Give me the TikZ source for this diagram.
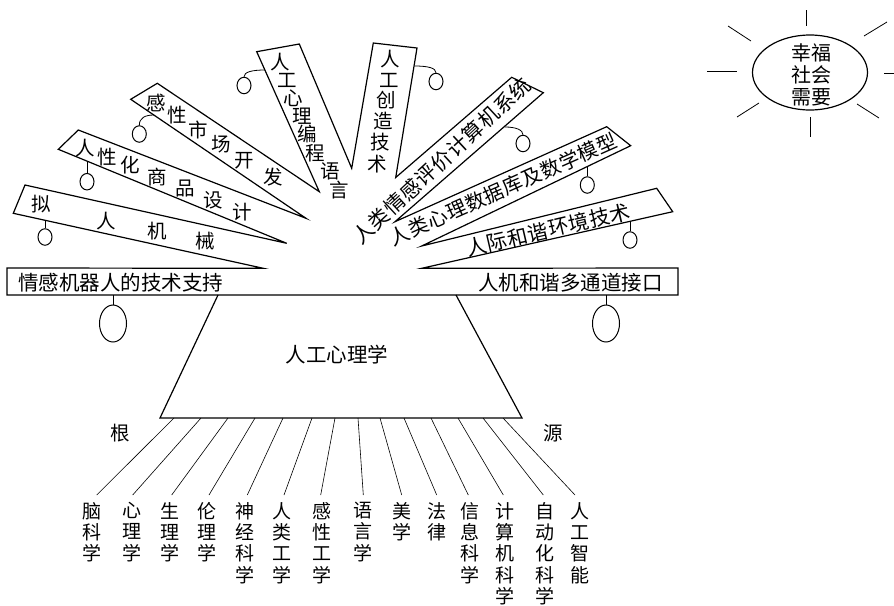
\documentclass[tikz,border=0pt]{standalone}
\usepackage{fontspec}
\setmainfont{Noto Sans CJK SC}
\usetikzlibrary{shapes.geometric,calc}
\begin{document}
\begin{tikzpicture}[x=1pt,y=-1pt,
  outline/.style={line width=1.2pt},
  ch/.style={inner sep=0pt, font=\fontsize{19.5}{21}\selectfont},
  bartext/.style={inner sep=0pt, font=\fontsize{20.5}{22}\selectfont},
  rottext/.style={inner sep=0pt},
  vlab/.style={inner sep=0pt, align=center, anchor=north, font=\fontsize{19}{21.3}\selectfont},
  pend/.style={draw, ellipse, line width=1pt, minimum width=14pt, minimum height=16.5pt, inner sep=0pt},
  bigpend/.style={draw, ellipse, line width=1pt, minimum width=27pt, minimum height=37pt, inner sep=0pt},
  pline/.style={line width=0.8pt},
  thinline/.style={line width=0.6pt},
  ray/.style={line width=0.8pt}
]
\fill[white] (0,0) rectangle (894,605);
\useasboundingbox (0,0) rectangle (894,605);

% fan + bar outline
\coordinate (barTL) at (7,268);
\coordinate (t1) at (263.3,268.3);
\coordinate (b1a) at (13.3,213.3);
\coordinate (b1b) at (25,185);
\coordinate (t12) at (286.7,243.3);
\coordinate (b2a) at (58.3,149.3);
\coordinate (b2b) at (78.3,130);
\coordinate (t23) at (306,218.3);
\coordinate (b3a) at (130.7,99.3);
\coordinate (b3b) at (157.3,83.3);
\coordinate (t34) at (319.3,191.7);
\coordinate (b4a) at (256.7,51.7);
\coordinate (b4b) at (299.3,44);
\coordinate (t45) at (351.7,168.3);
\coordinate (b5a) at (373.3,43);
\coordinate (b5b) at (417,48);
\coordinate (t56) at (395.7,177.5);
\coordinate (b6a) at (511.7,77.3);
\coordinate (b6b) at (543.3,92.7);
\coordinate (t67) at (395,221.7);
\coordinate (b7a) at (606.7,126.7);
\coordinate (b7b) at (630.7,145.7);
\coordinate (t78) at (421.7,246);
\coordinate (b8a) at (656.7,188.3);
\coordinate (b8b) at (672.7,211.7);
\coordinate (t8) at (421.7,268.3);
\coordinate (barTR) at (678,268);
\coordinate (barBR) at (678,295);
\coordinate (barBL) at (7,295);

\draw[outline] (barTL) -- (t1) -- (b1a) -- (b1b) -- (t12) -- (b2a) -- (b2b) -- (t23)
  -- (b3a) -- (b3b) -- (t34) -- (b4a) -- (b4b) -- (t45) -- (b5a) -- (b5b) -- (t56)
  -- (b6a) -- (b6b) -- (t67) -- (b7a) -- (b7b) -- (t78) -- (b8a) -- (b8b) -- (t8)
  -- (barTR) -- (barBR) -- (barBL) -- cycle;

% trapezoid
\coordinate (trTL) at (218,295);
\coordinate (trTR) at (456,295);
\coordinate (trBL) at (160,418);
\coordinate (trBR) at (522,418);
\draw[outline] (trTL) -- (trBL) -- (trBR) -- (trTR);
\node[ch, font=\fontsize{20.5}{22}\selectfont] (core) at (337,355) {人工心理学};

% bar texts
\node[bartext, anchor=west] (barL) at (18,282.5) {情感机器人的技术支持};
\node[bartext, anchor=east] (barR) at (663,282.5) {人机和谐多通道接口};

% blade 1
\node[ch] (c11) at (41.7,204) {拟};
\node[ch] (c12) at (106,220.7) {人};
\node[ch] (c13) at (157.3,231) {机};
\node[ch] (c14) at (205,240.7) {械};
% blade 2
\node[ch] (c21) at (85,148.3) {人};
\node[ch] (c22) at (107.3,156.7) {性};
\node[ch] (c23) at (130,165) {化};
\node[ch] (c24) at (157.3,176.7) {商};
\node[ch] (c25) at (185,188.3) {品};
\node[ch] (c26) at (213.3,200) {设};
\node[ch] (c27) at (242.7,211.7) {计};
% blade 3
\node[ch] (c31) at (156,103.3) {感};
\node[ch] (c32) at (177.5,115) {性};
\node[ch] (c33) at (198.5,129.5) {市};
\node[ch] (c34) at (221,144) {场};
\node[ch] (c35) at (244.3,160.7) {开};
\node[ch] (c36) at (273.3,176.7) {发};
% blade 4
\node[ch] (c41) at (280,61.7) {人};
\node[ch] (c42) at (287.3,80) {工};
\node[ch] (c43) at (293.3,98.3) {心};
\node[ch] (c44) at (302.7,116) {理};
\node[ch] (c45) at (307.3,134) {编};
\node[ch] (c46) at (315,153.3) {程};
\node[ch] (c47) at (330,171) {语};
\node[ch] (c48) at (339.3,190) {言};
% blade 5
\node[ch] (c51) at (390,59) {人};
\node[ch] (c52) at (389,80) {工};
\node[ch] (c53) at (386.5,100) {创};
\node[ch] (c54) at (383,121) {造};
\node[ch] (c55) at (380,142) {技};
\node[ch] (c56) at (377.5,164) {术};

% blades 6-8: characters set one by one along the blade
\coordinate (s6) at (363.3,233.3);
\coordinate (f6) at (520,88.3);
\foreach \c [count=\k from 0] in {人,类,情,感,评,价,计,算,机,系,统}{
  \node[rottext, rotate=42.8, font=\fontsize{20.5}{22}\selectfont] (c6-\k) at ($(s6)!{\k/10}!(f6)$) {\c};
}
\coordinate (s7) at (400,235);
\coordinate (f7) at (606.7,143.3);
\foreach \c [count=\k from 0] in {人,类,心,理,数,据,库,及,数,学,模,型}{
  \node[rottext, rotate=23.9, font=\fontsize{20}{22}\selectfont] (c7-\k) at ($(s7)!{\k/11}!(f7)$) {\c};
}
\coordinate (s8) at (476.7,246.7);
\coordinate (f8) at (620,213.3);
\foreach \c [count=\k from 0] in {人,际,和,谐,环,境,技,术}{
  \node[rottext, rotate=13.1, font=\fontsize{20.5}{22}\selectfont] (c8-\k) at ($(s8)!{\k/7}!(f8)$) {\c};
}

% pendants
\coordinate (e1) at (45,220.3);
\node[pend] (p1) at (45,237) {};
\draw[pline] (e1) -- (p1.north);
\coordinate (e2) at (87,161.1);
\node[pend] (p2) at (87,181.7) {};
\draw[pline] (e2) -- (p2.north);
\coordinate (e3) at (154,115);
\node[pend] (p3) at (139.3,134) {};
\draw[pline] (e3) .. controls (145,115) and (139.3,118) .. (p3.north);
\coordinate (e4) at (265,70);
\node[pend] (p4) at (244,85.5) {};
\draw[pline] (e4) .. controls (252,70) and (244,72) .. (p4.north);
\coordinate (e5) at (414.5,66);
\node[pend] (p5) at (436,81.5) {};
\draw[pline] (e5) .. controls (428,66) and (436,68) .. (p5.north);
\coordinate (e6) at (505,127);
\node[pend] (p6) at (523,143.5) {};
\draw[pline] (e6) .. controls (516,127) and (523,130) .. (p6.north);
\coordinate (e7) at (587.3,166.7);
\node[pend] (p7) at (587.3,185) {};
\draw[pline] (e7) -- (p7.north);
\coordinate (e8) at (630,221.3);
\node[pend] (p8) at (630,240) {};
\draw[pline] (e8) -- (p8.north);
\coordinate (e9) at (113,295);
\node[bigpend] (p9) at (113,323.5) {};
\draw[pline] (e9) -- (p9.north);
\coordinate (e10) at (606,295);
\node[bigpend] (p10) at (606,323.5) {};
\draw[pline] (e10) -- (p10.north);

% roots
\node[ch] (gen) at (120,433) {根};
\node[ch] (yuan) at (553,433) {源};
\foreach \i/\tx/\bx/\lx/\txt in {
  1/174/96.7/92.3/{脑\\科\\学},
  2/201/132.7/131.7/{心\\理\\学},
  3/228/171.7/170/{生\\理\\学},
  4/255/209/206.7/{伦\\理\\学},
  5/283/247.3/245/{神\\经\\科\\学},
  6/312/284/281.7/{人\\类\\工\\学},
  7/335/320.7/321.7/{感\\性\\工\\学},
  8/358/363.3/363.3/{语\\言\\学},
  9/380/401.7/401.7/{美\\学},
  10/404/436.7/436.7/{法\\律},
  11/431/468.3/470/{信\\息\\科\\学},
  12/458/503.3/505/{计\\算\\机\\科\\学},
  13/483/543.3/545/{自\\动\\化\\科\\学},
  14/503/575/580/{人\\工\\智\\能}}{
  \coordinate (rt\i) at (\tx,418);
  \coordinate (rb\i) at (\bx,495);
  \node[vlab] (lab\i) at (\lx,502) {\txt};
  \draw[thinline] (rt\i) -- (rb\i);
}

% sun
\node[draw, ellipse, line width=1.2pt, minimum width=115pt, minimum height=75pt, inner sep=0pt] (sun) at (810,72.5) {};
\node[inner sep=0pt, align=center, font=\fontsize{20}{22}\selectfont] (suntext) at (811.7,75) {幸福\\社会\\需要};
\draw[ray] (806,10) -- (806,26);
\draw[ray] (728,26) -- (751,41);
\draw[ray] (707,71) -- (737,71);
\draw[ray] (737,117) -- (759,103);
\draw[ray] (810,117) -- (810,137);
\draw[ray] (857,104) -- (879,118);
\draw[ray] (884,73) -- (894,73);
\draw[ray] (864,36) -- (887,22);
\end{tikzpicture}
\end{document}
